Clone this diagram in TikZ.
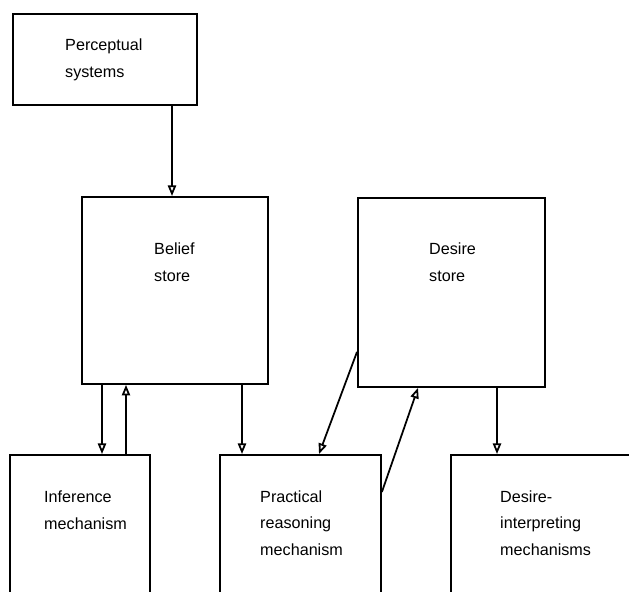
\documentclass[tikz,border=0pt]{standalone}
\usepackage{fontspec}
\setmainfont{Liberation Sans}
\usetikzlibrary{arrows.meta,calc}
\tikzstyle{box} = [draw=black, line width=1.6pt, inner sep=0pt, anchor=north west]
\tikzstyle{lbl} = [align=left, inner sep=0pt, anchor=north west, font=\fontsize{13.8}{22.6}\selectfont]
\tikzstyle{arr} = [line width=1.5pt, -{Triangle[open, length=9pt, width=7pt]}]

\begin{document}
\begin{tikzpicture}[x=0.03cm, y=-0.03cm]%
	\clip (0,0) rectangle (629,591);%
	\node [box, minimum width=5.52cm, minimum height=2.73cm] (percept) at (12,13) {};%
	\node [box, minimum width=5.58cm, minimum height=5.61cm] (belief) at (81,196) {};%
	\node [box, minimum width=5.61cm, minimum height=5.67cm] (desire) at (357,197) {};%
	\node [box, minimum width=4.20cm, minimum height=5.00cm] (infer) at (9,454) {};%
	\node [box, minimum width=4.83cm, minimum height=5.00cm] (practical) at (219,454) {};%
	\node [box, minimum width=6.30cm, minimum height=5.00cm] (interp) at (450,454) {};%
	\node [lbl] (perceptlbl) at (65,39) {Perceptual\\systems};%
	\node [lbl] (belieflbl) at (154,243) {Belief\\store};%
	\node [lbl] (desirelbl) at (429,243) {Desire\\store};%
	\node [lbl] (inferlbl) at (44,491) {Inference\\mechanism};%
	\node [lbl] (practicallbl) at (260,490.5) {Practical\\reasoning\\mechanism};%
	\node [lbl] (interplbl) at (500,490.5) {Desire-\\interpreting\\mechanisms};%
	\coordinate (p1) at ($(percept.south west)+(160,0)$);%
	\coordinate (b1) at ($(belief.south west)+(21,0)$);%
	\coordinate (b2) at ($(belief.south west)+(45,0)$);%
	\coordinate (b3) at ($(belief.south west)+(161,0)$);%
	\coordinate (d1) at ($(desire.south west)+(0,-36)$);%
	\coordinate (d2) at ($(desire.south west)+(61,0)$);%
	\coordinate (d3) at ($(desire.south west)+(140,0)$);%
	\coordinate (r1) at ($(practical.north west)+(100,0)$);%
	\coordinate (r2) at ($(practical.north east)+(0,38)$);%
	\draw [arr] (p1) -- (p1 |- belief.north);%
	\draw [arr] (b1) -- (b1 |- infer.north);%
	\draw [arr] (b2 |- infer.north) -- (b2);%
	\draw [arr] (b3) -- (b3 |- practical.north);%
	\draw [arr] (d1) -- (r1);%
	\draw [arr] (r2) -- (d2);%
	\draw [arr] (d3) -- (d3 |- interp.north);%
\end{tikzpicture}
\end{document}
